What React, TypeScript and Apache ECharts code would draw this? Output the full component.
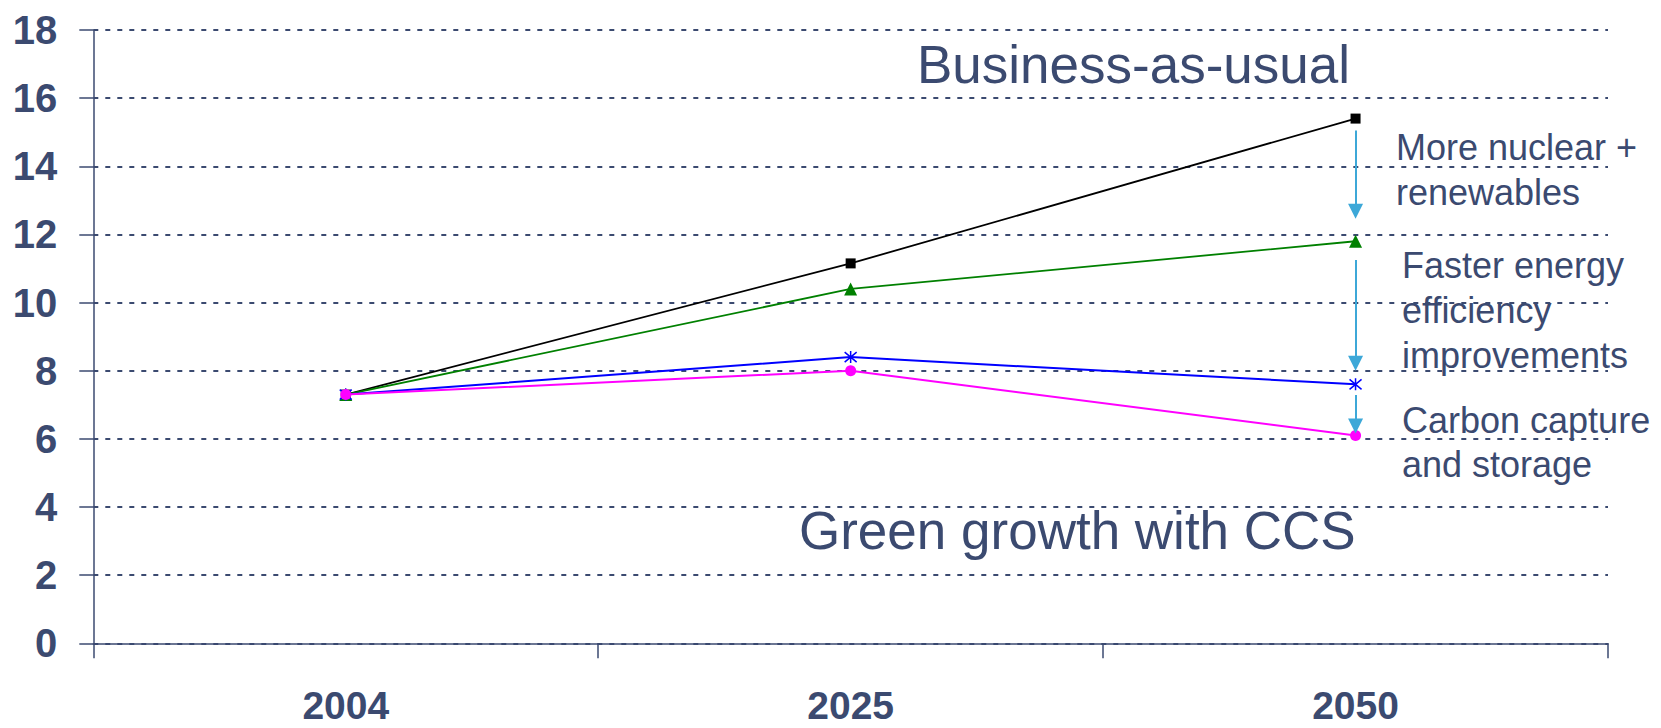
import React, { useEffect, useRef } from "react";
import * as echarts from "echarts";

const years = ["2004", "2025", "2050"];
const businessAsUsual = [7.3, 11.15, 15.4];
const nuclearRenewables = [7.3, 10.4, 11.8];
const energyEfficiency = [7.3, 8.4, 7.6];
const greenGrowthCCS = [7.3, 8.0, 6.1];
const yTicks = { min: 0, max: 18, interval: 2 };

// arrows: [startValue, endValue] at the 2050 category
const arrows = [
  [15.05, 12.68],
  [11.25, 8.22],
  [7.29, 6.38],
];

const TEXT = "#3b4a70";
const FONT = "'Liberation Sans', Arial, sans-serif";
const ARROW = "#3da8d8";

export default function App() {
  const ref = useRef<HTMLDivElement>(null);
  useEffect(() => {
    if (!ref.current) return;
    const chart = echarts.init(ref.current, undefined, { renderer: "svg" });
    const txt = (text: string, x: number, y: number, size: number) => ({
      type: "text",
      x,
      y,
      style: {
        text,
        fill: TEXT,
        font: `${size}px ${FONT}`,
        textAlign: "left",
        textVerticalAlign: "middle",
      },
    });
    chart.setOption({
      animation: false,
      grid: { left: 93.3, right: 53, top: 30, bottom: 84.7, containLabel: false },
      xAxis: {
        type: "category",
        data: years,
        boundaryGap: true,
        axisLine: { lineStyle: { color: TEXT, width: 1.5 } },
        axisTick: { show: true, length: 15, alignWithLabel: false, lineStyle: { color: TEXT, width: 1.5 } },
        axisLabel: {
          color: TEXT,
          fontSize: 39,
          fontWeight: "bold",
          fontFamily: FONT,
          margin: 44,
          lineHeight: 36,
        },
        splitLine: { show: false },
      },
      yAxis: {
        type: "value",
        min: yTicks.min,
        max: yTicks.max,
        interval: yTicks.interval,
        axisLine: { show: true, lineStyle: { color: TEXT, width: 1.5 } },
        axisTick: { show: true, length: 14, lineStyle: { color: TEXT, width: 1.5 } },
        axisLabel: { color: TEXT, fontSize: 40, fontWeight: "bold", fontFamily: FONT, margin: 36 },
        splitLine: { show: true, lineStyle: { color: TEXT, width: 2, type: [5, 7] } },
      },
      series: [
        {
          name: "Business-as-usual",
          type: "line",
          data: businessAsUsual,
          symbol: "rect",
          symbolSize: 10,
          lineStyle: { color: "#000000", width: 1.8 },
          itemStyle: { color: "#000000", borderWidth: 0 },
          markLine: {
            silent: true,
            symbol: ["none", "triangle"],
            symbolSize: [15, 15],
            label: { show: false },
            lineStyle: { color: ARROW, width: 2, type: "solid" },
            emphasis: { disabled: true },
            data: arrows.map(([a, b]) => [{ coord: [2, a] }, { coord: [2, b] }]),
          },
        },
        {
          name: "More nuclear + renewables",
          type: "line",
          data: nuclearRenewables,
          symbol: "triangle",
          symbolSize: 13,
          lineStyle: { color: "#008000", width: 1.8 },
          itemStyle: { color: "#008000", borderWidth: 0 },
        },
        {
          name: "Faster energy efficiency",
          type: "line",
          data: energyEfficiency,
          symbol: "path://M0,0L10,10M10,0L0,10M5,-1L5,11",
          symbolSize: 12,
          lineStyle: { color: "#0000ff", width: 2 },
          itemStyle: { color: "#0000ff", borderColor: "#0000ff", borderWidth: 1.5 },
        },
        {
          name: "Green growth with CCS",
          type: "line",
          data: greenGrowthCCS,
          symbol: "circle",
          symbolSize: 11,
          lineStyle: { color: "#ff00ff", width: 2 },
          itemStyle: { color: "#ff00ff", borderWidth: 0 },
        },
      ],
      graphic: [
        txt("Business-as-usual", 917, 64, 53),
        txt("Green growth with CCS", 799, 530, 53),
        txt("More nuclear +", 1396, 147, 36),
        txt("renewables", 1396, 192, 36),
        txt("Faster energy", 1402, 265, 36),
        txt("efficiency", 1402, 310, 36),
        txt("improvements", 1402, 355, 36),
        txt("Carbon capture", 1402, 420, 36),
        txt("and storage", 1402, 464, 36),
      ],
    });
    return () => chart.dispose();
  }, []);
  return (
    <div
      ref={ref}
      style={{ position: "absolute", left: 0, top: 0, width: 1661, height: 728 }}
    />
  );
}
